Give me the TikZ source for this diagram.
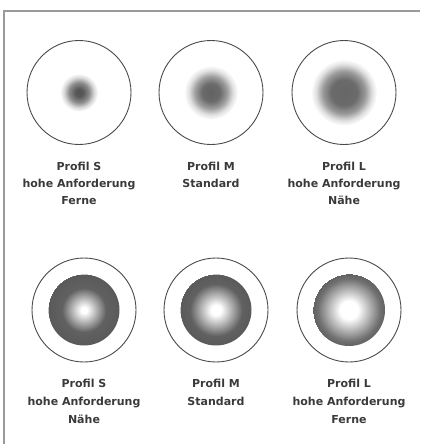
\documentclass[tikz,border=0pt]{standalone}
\usepackage{fontspec}
\setmainfont{DejaVu Sans}
\definecolor{frame}{HTML}{9A9A9A}
\definecolor{ring}{HTML}{4A4A4A}
\definecolor{txt}{HTML}{3A3A3A}
\pgfdeclareradialshading{blobS}{\pgfpoint{0bp}{0bp}}{color(0bp)=(black!68); color(4bp)=(black!65); color(10bp)=(black!45); color(15bp)=(black!15); color(19bp)=(white)}
\pgfdeclareradialshading{blobM}{\pgfpoint{0bp}{0bp}}{color(0bp)=(black!62); color(9bp)=(black!58); color(16bp)=(black!38); color(22bp)=(black!12); color(27bp)=(white)}
\pgfdeclareradialshading{blobL}{\pgfpoint{0bp}{0bp}}{color(0bp)=(black!60); color(13bp)=(black!58); color(21bp)=(black!40); color(28bp)=(black!12); color(33bp)=(white)}
\pgfdeclareradialshading{ringS}{\pgfpoint{0bp}{0bp}}{color(0bp)=(white); color(3bp)=(white); color(22bp)=(black!62); color(36bp)=(black!65)}
\pgfdeclareradialshading{ringM}{\pgfpoint{0bp}{0bp}}{color(0bp)=(white); color(5bp)=(white); color(26bp)=(black!62); color(36bp)=(black!65)}
\pgfdeclareradialshading{ringL}{\pgfpoint{0bp}{0bp}}{color(0bp)=(white); color(9bp)=(white); color(31bp)=(black!56); color(36bp)=(black!62)}
\tikzset{
  outer/.style={circle, draw=ring, line width=0.9pt, minimum size=104pt, inner sep=0pt},
  shaded disk/.style 2 args={circle, minimum size=#1, inner sep=0pt,
    path picture={\node[inner sep=0pt] at (path picture bounding box.center) {\pgfuseshading{#2}};}},
  lbl/.style={align=center, text=txt, font=\bfseries\fontsize{11}{17}\selectfont},
  lblb/.style={align=center, text=txt, font=\bfseries\fontsize{11}{18}\selectfont},
}
\begin{document}
\begin{tikzpicture}[x=1pt,y=-1pt]
\useasboundingbox (0,0) rectangle (420,444);
\draw[frame, line width=1.2pt] (4,444) -- (4,11) -- (420,11);
% top row
\node[outer] (c1) at (79,92.5) {};
\node[outer] (c2) at (211,92.5) {};
\node[outer] (c3) at (344,92.5) {};
\node[shaded disk={38pt}{blobS}] (b1) at (c1) {};
\node[shaded disk={54pt}{blobM}] (b2) at (c2) {};
\node[shaded disk={66pt}{blobL}] (b3) at (c3) {};
\node[lbl] (l1) at (79,183) {Profil S\\hohe Anforderung\\Ferne};
\node[lbl] (l2) at (211,174.5) {Profil M\\Standard};
\node[lbl] (l3) at (344,183) {Profil L\\hohe Anforderung\\Nähe};
% bottom row
\node[outer] (c4) at (84,310) {};
\node[outer] (c5) at (216,310) {};
\node[outer] (c6) at (349,310) {};
\node[shaded disk={71pt}{ringS}] (r4) at (c4) {};
\node[shaded disk={71pt}{ringM}] (r5) at (c5) {};
\node[shaded disk={72pt}{ringL}] (r6) at (c6) {};
\node[lblb] (l4) at (84,401) {Profil S\\hohe Anforderung\\Nähe};
\node[lblb] (l5) at (216,392) {Profil M\\Standard};
\node[lblb] (l6) at (349,401) {Profil L\\hohe Anforderung\\Ferne};
\end{tikzpicture}
\end{document}
